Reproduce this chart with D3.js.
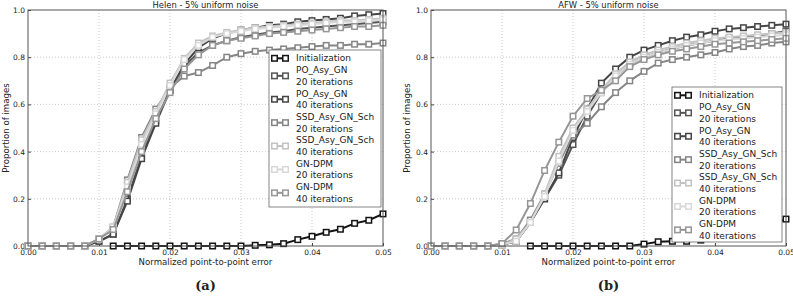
<!DOCTYPE html>
<head>
  <meta charset="utf-8">
  <script src="https://d3js.org/d3.v7.min.js"></script>
  <style>
    body { margin: 0; background: #fff; }
    svg { width: 793px; height: 296px; display: block; }
    text { font-family: "DejaVu Sans", sans-serif; fill: #222; }
  </style>
</head>
<body>
  <svg></svg>
  <script>
    // x positions: 0.000 .. 0.050 every 0.002
    var errors = d3.range(26).map(function(i) { return +(i * 0.002).toFixed(3); });
    var xTicks = [0, 0.01, 0.02, 0.03, 0.04, 0.05];
    var yTicks = [0, 0.2, 0.4, 0.6, 0.8, 1.0];

    var seriesNames = ['Initialization', 'PO_Asy_GN\n20 iterations', 'PO_Asy_GN\n40 iterations',
      'SSD_Asy_GN_Sch\n20 iterations', 'SSD_Asy_GN_Sch\n40 iterations',
      'GN-DPM\n20 iterations', 'GN-DPM\n40 iterations'];
    var seriesColors = ['#141414', '#555555', '#454545', '#858585', '#c2c2c2', '#d8d8d8', '#969696'];

    // Helen - 5% uniform noise
    var helenInit   = [null,null,null,null,null,null,0,0,0,0,0,0,0,0,0,0,0.003,0.005,0.01,0.027,0.041,0.058,0.071,0.096,0.109,0.136];
    var helenPO20   = [0,0,0,0,0,0.02,0.05,0.2,0.38,0.53,0.66,0.76,0.82,0.85,0.87,0.885,0.895,0.905,0.91,0.92,0.925,0.93,0.935,0.94,0.945,0.95];
    var helenPO40   = [0,0,0,0,0,0.02,0.05,0.19,0.37,0.52,0.66,0.77,0.84,0.88,0.9,0.915,0.925,0.935,0.94,0.95,0.955,0.96,0.965,0.975,0.98,0.985];
    var helenSSD20  = [0,0,0,0,0,0.03,0.08,0.28,0.46,0.58,0.67,0.72,0.735,0.765,0.8,0.815,0.825,0.83,0.835,0.84,0.845,0.85,0.85,0.855,0.855,0.86];
    var helenSSD40  = [0,0,0,0,0,0.03,0.08,0.27,0.45,0.57,0.69,0.795,0.86,0.89,0.905,0.915,0.925,0.93,0.935,0.94,0.945,0.95,0.955,0.955,0.96,0.965];
    var helenDPM20  = [0,0,0,0,0,0.03,0.08,0.25,0.43,0.56,0.68,0.79,0.85,0.885,0.9,0.91,0.92,0.925,0.93,0.935,0.94,0.945,0.95,0.95,0.955,0.96];
    var helenDPM40  = [0,0,0,0,0,0.03,0.07,0.23,0.4,0.54,0.65,0.75,0.81,0.85,0.87,0.88,0.89,0.9,0.905,0.91,0.915,0.92,0.925,0.93,0.93,0.935];

    // AFW - 5% uniform noise
    var afwInit  = [null,null,null,null,null,null,null,0,0,0,0,0,0,0,0,0.008,0.018,0.02,0.02,0.025,0.035,0.045,0.06,0.075,0.09,0.114];
    var afwPO20  = [0,0,0,0,0,0.005,0.02,0.1,0.2,0.3,0.43,0.55,0.65,0.72,0.77,0.8,0.82,0.835,0.85,0.86,0.87,0.88,0.885,0.89,0.9,0.91];
    var afwPO40  = [0,0,0,0,0,0.005,0.02,0.1,0.2,0.31,0.46,0.58,0.69,0.75,0.8,0.83,0.85,0.87,0.885,0.895,0.91,0.92,0.925,0.93,0.935,0.94];
    var afwSSD20 = [0,0,0,0,0,0.01,0.03,0.11,0.22,0.35,0.47,0.52,0.59,0.65,0.7,0.74,0.775,0.79,0.8,0.81,0.82,0.835,0.845,0.85,0.86,0.865];
    var afwSSD40 = [0,0,0,0,0,0.005,0.03,0.1,0.22,0.38,0.5,0.58,0.66,0.73,0.78,0.81,0.83,0.845,0.86,0.87,0.88,0.885,0.89,0.895,0.9,0.905];
    var afwDPM20 = [0,0,0,0,0,0.005,0.02,0.1,0.21,0.36,0.49,0.57,0.65,0.72,0.77,0.8,0.82,0.835,0.85,0.86,0.87,0.875,0.88,0.885,0.89,0.895];
    var afwDPM40 = [0,0,0,0,0,0.01,0.068,0.18,0.32,0.44,0.55,0.625,0.66,0.7,0.76,0.79,0.81,0.825,0.835,0.845,0.855,0.86,0.865,0.87,0.875,0.88];

    var panels = [
      { title: 'Helen - 5% uniform noise', tag: '(a)', left: 28, right: 383, ylabX: 6,
        legend: { x: 269, y: 50, w: 112, h: 157 },
        series: [helenInit, helenPO20, helenPO40, helenSSD20, helenSSD40, helenDPM20, helenDPM40] },
      { title: 'AFW - 5% uniform noise', tag: '(b)', left: 431, right: 786, ylabX: 407,
        legend: { x: 672, y: 87, w: 110, h: 155 },
        series: [afwInit, afwPO20, afwPO40, afwSSD20, afwSSD40, afwDPM20, afwDPM40] }
    ];

    var plotTop = 10, plotBottom = 246;
    var svg = d3.select('svg');

    panels.forEach(function(p) {
      var g = svg.append('g');
      var x = d3.scaleLinear().domain([0, 0.05]).range([p.left, p.right]);
      var y = d3.scaleLinear().domain([0, 1]).range([plotBottom, plotTop]);

      // grid
      g.append('g').selectAll('line')
        .data(xTicks.slice(1, -1)).enter().append('line')
        .attr('x1', function(d) { return x(d); }).attr('x2', function(d) { return x(d); })
        .attr('y1', plotTop).attr('y2', plotBottom)
        .attr('stroke', '#bbb').attr('stroke-width', 0.8).attr('stroke-dasharray', '1,2');
      g.append('g').selectAll('line')
        .data(yTicks.slice(1, -1)).enter().append('line')
        .attr('y1', function(d) { return y(d); }).attr('y2', function(d) { return y(d); })
        .attr('x1', p.left).attr('x2', p.right)
        .attr('stroke', '#bbb').attr('stroke-width', 0.8).attr('stroke-dasharray', '1,2');

      // axes
      var xAxis = g.append('g').attr('transform', 'translate(0,' + plotBottom + ')')
        .call(d3.axisBottom(x).tickValues(xTicks).tickFormat(d3.format('.2f')).tickSizeInner(-3).tickSizeOuter(0).tickPadding(4));
      var yAxis = g.append('g').attr('transform', 'translate(' + p.left + ',0)')
        .call(d3.axisLeft(y).tickValues(yTicks).tickFormat(d3.format('.1f')).tickSizeInner(-3).tickSizeOuter(0).tickPadding(3));
      [xAxis, yAxis].forEach(function(a) {
        a.select('.domain').remove();
        a.selectAll('line').attr('stroke', '#444');
        a.selectAll('text').attr('font-size', 7.5).attr('fill', '#333')
          .attr('font-family', '"DejaVu Sans", sans-serif');
      });

      // lines and markers
      var line = d3.line()
        .defined(function(d) { return d != null; })
        .x(function(d, i) { return x(errors[i]); })
        .y(function(d) { return y(d); });

      p.series.forEach(function(vals, si) {
        var sg = g.append('g');
        sg.append('path').datum(vals)
          .attr('d', line).attr('fill', 'none')
          .attr('stroke', seriesColors[si]).attr('stroke-width', 2);
        sg.selectAll('rect')
          .data(vals.map(function(v, i) { return { v: v, e: errors[i] }; })
            .filter(function(d) { return d.v != null; }))
          .enter().append('rect')
          .attr('x', function(d) { return x(d.e) - 2.75; })
          .attr('y', function(d) { return y(d.v) - 2.75; })
          .attr('width', 5.5).attr('height', 5.5)
          .attr('fill', '#fff').attr('stroke', seriesColors[si]).attr('stroke-width', 1.5);
      });

      // frame
      g.append('rect').attr('x', p.left).attr('y', plotTop)
        .attr('width', p.right - p.left).attr('height', plotBottom - plotTop)
        .attr('fill', 'none').attr('stroke', '#555').attr('stroke-width', 1);

      // legend
      var L = p.legend;
      var lg = g.append('g');
      lg.append('rect').attr('x', L.x).attr('y', L.y).attr('width', L.w).attr('height', L.h)
        .attr('fill', '#fff').attr('stroke', '#666').attr('stroke-width', 0.8);
      var lineH = 11.7, row = 0;
      seriesNames.forEach(function(name, si) {
        var parts = name.split('\n');
        var cy = L.y + 8.3 + row * lineH + (parts.length - 1) * lineH / 2;
        var mx0 = L.x + 5.5, mx1 = L.x + 16.5;
        lg.append('line').attr('x1', mx0).attr('x2', mx1).attr('y1', cy).attr('y2', cy)
          .attr('stroke', seriesColors[si]).attr('stroke-width', 2);
        [mx0, mx1].forEach(function(mx) {
          lg.append('rect').attr('x', mx - 2.75).attr('y', cy - 2.75).attr('width', 5.5).attr('height', 5.5)
            .attr('fill', '#fff').attr('stroke', seriesColors[si]).attr('stroke-width', 1.5);
        });
        parts.forEach(function(t, k) {
          lg.append('text').attr('x', L.x + 27).attr('y', L.y + 8.3 + (row + k) * lineH)
            .attr('dy', '0.35em').attr('font-size', 9).text(t);
        });
        row += parts.length;
      });

      // titles
      var cx = (p.left + p.right) / 2;
      g.append('text').attr('x', cx).attr('y', 8).attr('text-anchor', 'middle')
        .attr('font-size', 8.4).text(p.title);
      g.append('text').attr('x', cx).attr('y', 265).attr('text-anchor', 'middle')
        .attr('font-size', 8.6).text('Normalized point-to-point error');
      g.append('text').attr('transform', 'translate(' + (p.ylabX + 3) + ',' + ((plotTop + plotBottom) / 2) + ')rotate(-90)')
        .attr('text-anchor', 'middle').attr('font-size', 8.6).text('Proportion of images');
      g.append('text').attr('x', cx).attr('y', 290).attr('text-anchor', 'middle')
        .attr('font-weight', 'bold').attr('font-size', 13)
        .style('font-family', '"DejaVu Serif", serif').text(p.tag);
    });
  </script>
</body>
